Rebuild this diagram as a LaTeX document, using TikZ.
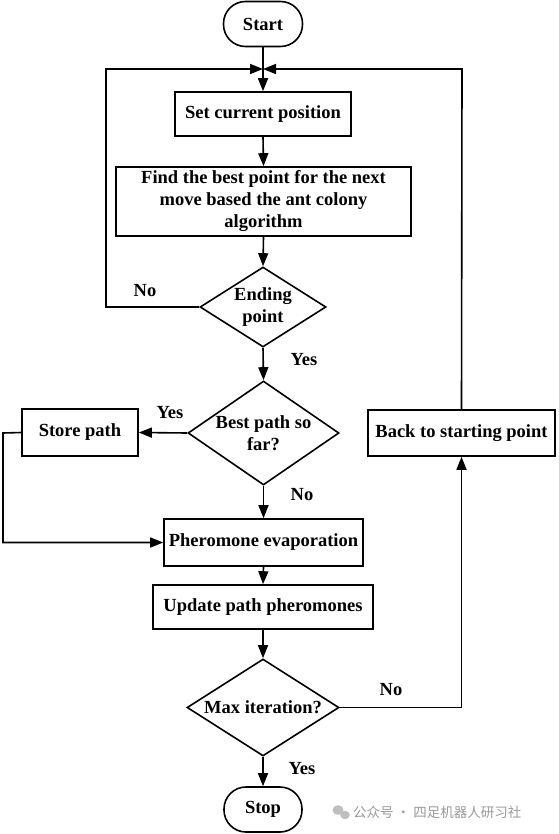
\documentclass[tikz,border=0pt]{standalone}
\usepackage{fontspec}
\setmainfont{Liberation Serif}
\newfontfamily\cjkfont{Noto Sans CJK SC}
\usetikzlibrary{shapes.geometric,arrows.meta}
\begin{document}
\begin{tikzpicture}[x=1pt,y=-1pt,
  every node/.style={font=\bfseries\fontsize{18.5}{22}\selectfont},
  box/.style={draw,line width=1.6pt,align=center,inner sep=0pt},
  term/.style={box,rounded corners=22pt,minimum width=79pt,minimum height=45pt},
  dec/.style={draw,line width=1.6pt,shape=diamond,align=center,inner sep=0pt},
  lbl/.style={inner sep=0pt},
  conn/.style={line width=1.6pt},
  arr/.style={conn,-{Triangle[length=13pt,width=10pt]}}]
\useasboundingbox (0,0) rectangle (558,834);
\node[term] (start) at (263,24) {Start};
\node[box,minimum width=176pt,minimum height=44pt] (set) at (263,114) {Set current position};
\node[box,minimum width=295pt,minimum height=69pt] (find) at (263.5,201.5) {Find the best point for the next\\move based the ant colony\\algorithm};
\node[dec,aspect=1.6,minimum width=126pt,minimum height=80pt] (endp) at (263,307) {Ending\\point};
\node[dec,aspect=1.45,minimum width=151pt,minimum height=104pt] (best) at (263.5,433) {Best path so\\far?};
\node[box,minimum width=116pt,minimum height=47pt] (store) at (80,432.5) {Store path};
\node[box,minimum width=187pt,minimum height=46pt] (back) at (461.5,433) {Back to starting point};
\node[box,minimum width=199pt,minimum height=47pt] (pher) at (263.5,542.5) {Pheromone evaporation};
\node[box,minimum width=220pt,minimum height=44pt] (upd) at (263,607) {Update path pheromones};
\node[dec,aspect=1.6,minimum width=152pt,minimum height=97pt] (maxit) at (263,707.5) {Max iteration?};
\node[term,minimum width=78pt] (stop) at (263,809.5) {Stop};
\coordinate (junc) at (263,69);
\coordinate (lc) at (106,69);
\coordinate (rc) at (462,69);
\coordinate (sl) at (3,433);
% connectors
\draw[conn] (start.south) -- (junc);
\draw[arr] (junc) -- (set.north);
\draw[arr] (set.south) -- (find.north);
\draw[arr] (find.south) -- (endp.north);
\draw[arr] (endp.west) -| (lc) -- (junc);
\draw[arr] (endp.south) -- (best.north);
\draw[arr] (best.west) -- (store.east);
\draw[arr] (best.south) -- (pher.north);
\draw[arr] (store.west) -- (sl) |- (pher.west);
\draw[arr] (pher.south) -- (upd.north);
\draw[arr] (upd.south) -- (maxit.north);
\draw[arr] (maxit.south) -- (stop.north);
\draw[arr] (maxit.east) -| (back.south);
\draw[arr] (back.north) -- (rc) -- (junc);
% labels
\node[lbl] (l1) at (145,291) {No};
\node[lbl] (l2) at (304,360) {Yes};
\node[lbl] (l3) at (170,413) {Yes};
\node[lbl] (l4) at (302,495) {No};
\node[lbl] (l5) at (391,690) {No};
\node[lbl] (l6) at (302,769) {Yes};
% watermark
\fill[black!25] (338,810) ellipse (5.5pt and 4.8pt);
\fill[black!25] (345,815) ellipse (4.8pt and 4.2pt);
\node[lbl,anchor=west,text=black!40,font=\cjkfont\fontsize{13.5}{15}\selectfont] (wm) at (353,812) {公众号 · 四足机器人研习社};
\end{tikzpicture}
\end{document}
